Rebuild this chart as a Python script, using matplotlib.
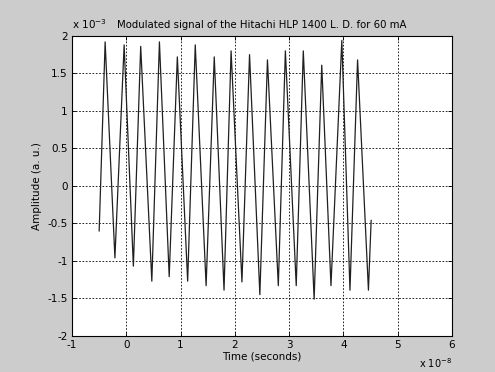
import numpy as np
import matplotlib.pyplot as plt

# data (time in units of 1e-8 s, amplitude in units of 1e-3 a.u.)
t = [-0.50, -0.39, -0.21, -0.04, 0.13, 0.265, 0.47, 0.61, 0.79, 0.94,
     1.13, 1.27, 1.47, 1.62, 1.80, 1.93, 2.13, 2.27, 2.46, 2.60,
     2.80, 2.93, 3.13, 3.26, 3.46, 3.60, 3.77, 3.97, 4.12, 4.26,
     4.46, 4.51]
amp = [-0.60, 1.92, -0.96, 1.88, -1.07, 1.86, -1.27, 1.92, -1.21, 1.72,
       -1.27, 1.88, -1.33, 1.72, -1.39, 1.80, -1.28, 1.75, -1.45, 1.68,
       -1.33, 1.80, -1.33, 1.80, -1.51, 1.61, -1.33, 1.94, -1.39, 1.68,
       -1.39, -0.46]

xticks = [-1, 0, 1, 2, 3, 4, 5, 6]
yticks = [-2, -1.5, -1, -0.5, 0, 0.5, 1, 1.5, 2]
ytick_labels = ['-2', '-1.5', '-1', '-0.5', '0', '0.5', '1', '1.5', '2']

fig = plt.figure(figsize=(4.95, 3.72), dpi=100, facecolor='#cccccc')
ax = fig.add_axes([0.1455, 0.097, 0.7677, 0.8065])
ax.set_facecolor('white')

ax.plot(t, amp, color='#202020', lw=0.9)

ax.set_xlim(-1, 6)
ax.set_ylim(-2, 2)
ax.set_xticks(xticks)
ax.set_xticklabels([str(v) for v in xticks])
ax.set_yticks(yticks)
ax.set_yticklabels(ytick_labels)
ax.tick_params(direction='in', top=True, right=True, labelsize=7.5,
               length=3, width=0.6, pad=3)
ax.grid(True, linestyle=(0, (2, 2)), color='black', lw=0.6)
for s in ax.spines.values():
    s.set_linewidth(0.8)

ax.set_title('Modulated signal of the Hitachi HLP 1400 L. D. for 60 mA',
             fontsize=7.3, pad=6)
ax.set_xlabel('Time (seconds)', fontsize=7.5, labelpad=1)
ax.set_ylabel('Amplitude (a. u.)', fontsize=7.5, labelpad=4)

# exponent labels like MATLAB
ax.text(0.0, 1.015, r'x 10$^{-3}$', transform=ax.transAxes, fontsize=7.5,
        ha='left', va='bottom')
ax.text(1.0, -0.068, r'x 10$^{-8}$', transform=ax.transAxes, fontsize=7,
        ha='right', va='top')

fig.savefig('out.png', dpi=100, facecolor=fig.get_facecolor())
